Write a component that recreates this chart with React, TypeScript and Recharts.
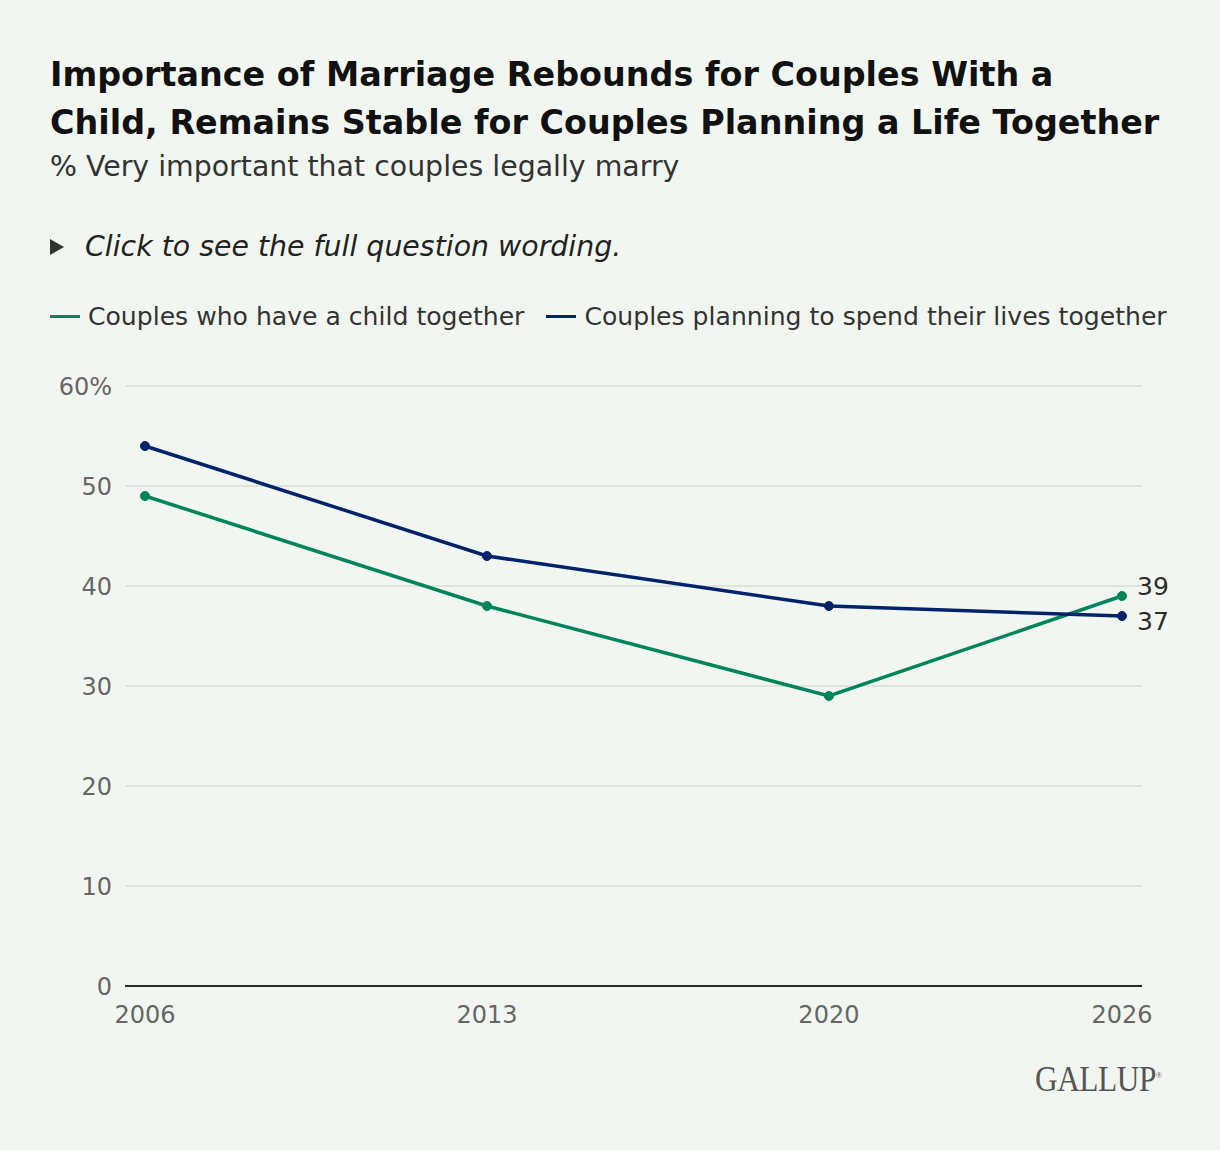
import React from 'react';
import { LineChart, Line, XAxis, YAxis, CartesianGrid, LabelList } from 'recharts';

const years = [2006, 2013, 2020, 2026];
const childTogether = [49, 38, 29, 39];
const planningLives = [54, 43, 38, 37];
const yTicks = [0, 10, 20, 30, 40, 50, 60];

const series = [
  { key: 'child', name: 'Couples who have a child together', color: '#00845a', values: childTogether, labelDy: -10 },
  { key: 'plan', name: 'Couples planning to spend their lives together', color: '#00236b', values: planningLives, labelDy: 5 },
];

const data = years.map((year, i) => ({
  year,
  child: childTogether[i],
  plan: planningLives[i],
}));

const FONT = '"DejaVu Sans", Inter, sans-serif';
const BG = '#f1f7f0';

const endLabel = (dy: number) => (props: any) => {
  const { x, y, value, index } = props;
  if (index !== years.length - 1) return null;
  return (
    <text x={x + 15} y={y + dy} dy="0.35em" fontSize={25} fill="#2b2b2b" fontFamily={FONT}>
      {value}
    </text>
  );
};

const App: React.FC = () => {
  return (
    <div style={{ position: 'absolute', left: 0, top: 0, width: 1220, height: 1150, background: BG, fontFamily: FONT, color: '#111' }}>
      <div style={{ position: 'absolute', left: 50, top: 51, width: 1160, fontSize: 33.4, fontWeight: 700, lineHeight: '48px', whiteSpace: 'nowrap' }}>
        Importance of Marriage Rebounds for Couples With a<br />
        Child, Remains Stable for Couples Planning a Life Together
      </div>
      <div style={{ position: 'absolute', left: 50, top: 150, fontSize: 28.4, color: '#333' }}>
        % Very important that couples legally marry
      </div>
      <div style={{ position: 'absolute', left: 50, top: 230, fontSize: 28.4, color: '#222', display: 'flex', alignItems: 'center' }}>
        <span style={{ display: 'inline-block', width: 0, height: 0, borderTop: '8px solid transparent', borderBottom: '8px solid transparent', borderLeft: '14px solid #333', marginRight: 21 }} />
        <span style={{ fontStyle: 'italic' }}>Click to see the full question wording.</span>
      </div>
      <div style={{ position: 'absolute', left: 50, top: 302, fontSize: 25.1, color: '#333', display: 'flex', alignItems: 'center' }}>
        {series.map((s, i) => (
          <span key={s.key} style={{ display: 'flex', alignItems: 'center', marginRight: i === 0 ? 22 : 0 }}>
            <span style={{ display: 'inline-block', width: 30, height: 3, background: s.color, marginRight: 8 }} />
            {s.name}
          </span>
        ))}
      </div>

      <div style={{ position: 'absolute', left: 0, top: 360 }}>
        <LineChart width={1220} height={690} data={data} margin={{ top: 26, right: 78, bottom: 24, left: 0 }}>
          <CartesianGrid vertical={false} stroke="#d8dcd6" strokeWidth={1.5} />
          <XAxis
            dataKey="year"
            type="number"
            domain={[2006, 2026]}
            ticks={years}
            padding={{ left: 20, right: 20 }}
            axisLine={{ stroke: '#2b2b2b', strokeWidth: 2 }}
            tickLine={false}
            tickSize={0}
            tickMargin={20}
            height={40}
            tick={{ fontSize: 24, fill: '#666', fontFamily: FONT }}
          />
          <YAxis
            domain={[0, 60]}
            ticks={yTicks}
            width={125}
            axisLine={false}
            tickLine={false}
            tickSize={0}
            tickMargin={13}
            tick={{ fontSize: 24, fill: '#666', fontFamily: FONT }}
            tickFormatter={(v: number) => (v === 60 ? `${v}%` : `${v}`)}
          />
          {series.map(s => (
            <Line
              key={s.key}
              type="linear"
              dataKey={s.key}
              stroke={s.color}
              strokeWidth={3.5}
              dot={{ r: 4.5, fill: s.color, stroke: s.color, strokeWidth: 1 }}
              activeDot={false}
              isAnimationActive={false}
            >
              <LabelList dataKey={s.key} content={endLabel(s.labelDy)} />
            </Line>
          ))}
        </LineChart>
      </div>

      <div style={{ position: 'absolute', left: 1035, top: 1058, fontFamily: '"Liberation Serif", "DejaVu Serif", serif', fontSize: 36, color: '#555', transform: 'scaleX(0.87)', transformOrigin: 'left top', letterSpacing: -0.5 }}>
        GALLUP<sup style={{ fontSize: 9 }}>®</sup>
      </div>
    </div>
  );
};

export default App;
